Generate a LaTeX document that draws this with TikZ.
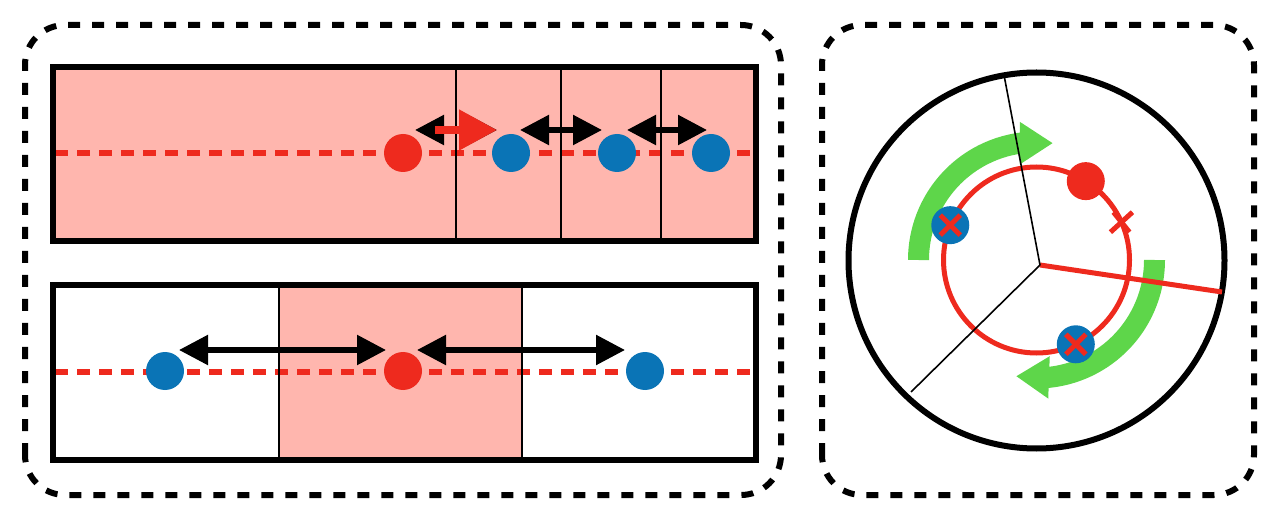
\documentclass[tikz,border=0pt]{standalone}
\usetikzlibrary{arrows.meta,bending}
\definecolor{pinkfill}{HTML}{FFB6AE}
\definecolor{dred}{HTML}{EE2A1E}
\definecolor{dblue}{HTML}{0A74B6}
\definecolor{dgreen}{HTML}{5ED64A}
\begin{document}
\begin{tikzpicture}[x=1pt,y=1pt,
 panel/.style={line width=6pt, dash pattern=on 12pt off 12pt, rounded corners=40pt},
 strip/.style={line width=6pt},
 divider/.style={line width=1.6pt},
 track/.style={dred, line width=6pt, dash pattern=on 13pt off 9pt},
 reddot/.style={circle, fill=dred, minimum size=38pt, inner sep=0pt},
 bluedot/.style={circle, fill=dblue, minimum size=38pt, inner sep=0pt},
 bluex/.style={bluedot, path picture={
   \draw[dred, line width=5pt] ([shift={(-10pt,-10pt)}]path picture bounding box.center) -- ++(20pt,20pt);
   \draw[dred, line width=5pt] ([shift={(-10pt,10pt)}]path picture bounding box.center) -- ++(20pt,-20pt);}},
 dbl/.style={line width=5.5pt, {Triangle[length=29pt,width=29pt]}-{Triangle[length=29pt,width=29pt]}},
 push/.style={dred, line width=8pt, -{Triangle[length=38pt,width=39pt]}},
 swirl/.style={dgreen, line width=21pt, -{Triangle[length=33pt,width=40pt,flex]}},
 spoke/.style={line width=1.6pt},
]
\useasboundingbox (0,0) rectangle (1280,520);

% dashed panels
\draw[panel] (25,25) rectangle (781,495);
\draw[panel] (822,25) rectangle (1254,495);

% ---------- top strip ----------
\fill[pinkfill] (53,279) rectangle (756,453);
\draw[track] (55,367) -- (752,367);
\draw[divider] (456,279) -- (456,453);
\draw[divider] (561,279) -- (561,453);
\draw[divider] (661,279) -- (661,453);
\draw[strip] (53,279) rectangle (756,453);

\node[reddot]  (t0) at (403,367) {};
\node[bluedot] (t1) at (511,367) {};
\node[bluedot] (t2) at (617,367) {};
\node[bluedot] (t3) at (711,367) {};

\coordinate (a1l) at (415,390);
\coordinate (a1r) at (497,390);
\coordinate (a1s) at (435,390);
\coordinate (a2l) at (520,390);
\coordinate (a2r) at (602,390);
\coordinate (a3l) at (627,390);
\coordinate (a3r) at (707,390);
\draw[dbl] (a1l) -- (a1r);
\draw[push] (a1s) -- (a1r);
\draw[dbl] (a2l) -- (a2r);
\draw[dbl] (a3l) -- (a3r);

% ---------- bottom strip ----------
\fill[pinkfill] (279,60) rectangle (522,235);
\draw[track] (55,148) -- (752,148);
\draw[divider] (279,60) -- (279,235);
\draw[divider] (522,60) -- (522,235);
\draw[strip] (53,60) rectangle (756,235);

\node[bluedot] (b0) at (165,149) {};
\node[reddot]  (b1) at (403,149) {};
\node[bluedot] (b2) at (645,149) {};

\coordinate (c1l) at (179,170);
\coordinate (c1r) at (386,170);
\coordinate (c2l) at (417,170);
\coordinate (c2r) at (625,170);
\draw[dbl] (c1l) -- (c1r);
\draw[dbl] (c2l) -- (c2r);

% ---------- right panel ----------
\coordinate (bc) at (1036.5,259.5);
\coordinate (oc) at (1036.5,260);
\coordinate (hub) at (1040,255);
\coordinate (rimT) at (1004,445);
\coordinate (rimL) at (911,128);
\coordinate (rimR) at (1222,228);

\draw[line width=6pt] (bc) circle[radius=188];
\draw[dred, line width=5pt] (oc) circle[radius=93];

\draw[swirl] ([shift={(180:118)}]oc) arc[start angle=180, end angle=82, radius=118];
\draw[swirl] ([shift={(0:118)}]oc) arc[start angle=0, end angle=-100, radius=118];

\draw[dred, line width=5pt] (hub) -- (rimR);
\draw[spoke] (hub) -- (rimT);
\draw[spoke] (hub) -- (rimL);

\node[reddot] (rd) at ([shift={(58:93)}]oc) {};
\node[bluex] (bx1) at ([shift={(158:93)}]oc) {};
\node[bluex] (bx2) at ([shift={(-65:93)}]oc) {};

\coordinate (mk) at ([shift={(24:93)}]oc);
\draw[dred, line width=5pt] ([shift={(-11,-10)}]mk) -- ([shift={(11,10)}]mk);
\draw[dred, line width=5pt] ([shift={(-8,10)}]mk) -- ([shift={(8,-10)}]mk);
\end{tikzpicture}
\end{document}
